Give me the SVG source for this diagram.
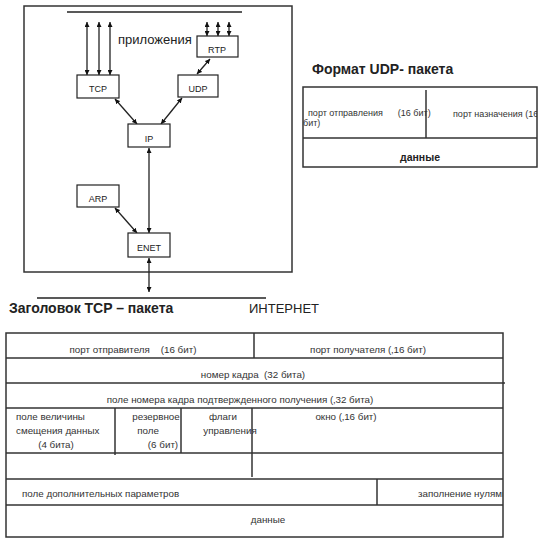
<svg xmlns="http://www.w3.org/2000/svg" width="542" height="540" viewBox="0 0 542 540">
<style>
.bx{fill:#fff;stroke:#222;stroke-width:1.2}
.ln{stroke:#222;stroke-width:1.3;fill:none}
.tb{stroke:#333;stroke-width:1.5;fill:none}
.s{font-family:"Liberation Sans",Arial,sans-serif;font-size:9px;fill:#333}
.lb{font-family:"Liberation Sans",Arial,sans-serif;font-size:9px;fill:#222;text-anchor:middle}
.t{font-family:"Liberation Sans",Arial,sans-serif;font-size:9.8px;fill:#333}
.m{text-anchor:middle}
.h{font-family:"Liberation Sans",Arial,sans-serif;font-size:14px;font-weight:bold;fill:#222}
</style>
<defs>
<marker id="ah" viewBox="0 0 10 10" refX="10" refY="5" markerWidth="5" markerHeight="5" orient="auto-start-reverse" markerUnits="userSpaceOnUse">
<path d="M0,0 L10,5 L0,10 z" fill="#111"/>
</marker>
</defs>
<rect x="0" y="0" width="542" height="540" fill="#fff"/>

<!-- stack frame -->
<rect x="24" y="6" width="268" height="266" class="tb" stroke-width="1.6"/>
<line x1="67" y1="12" x2="242" y2="12" class="ln"/>
<text x="118" y="44" font-family="Liberation Sans, Arial, sans-serif" font-size="13" fill="#222">приложения</text>

<g id="connectors">
<line x1="87" y1="22" x2="87" y2="75" class="ln" marker-start="url(#ah)" marker-end="url(#ah)"/>
<line x1="99" y1="22" x2="99" y2="75" class="ln" marker-start="url(#ah)" marker-end="url(#ah)"/>
<line x1="110" y1="22" x2="110" y2="75" class="ln" marker-start="url(#ah)" marker-end="url(#ah)"/>
<line x1="207" y1="22" x2="207" y2="36" class="ln" marker-start="url(#ah)" marker-end="url(#ah)"/>
<line x1="218" y1="22" x2="218" y2="36" class="ln" marker-start="url(#ah)" marker-end="url(#ah)"/>
<line x1="229" y1="22" x2="229" y2="36" class="ln" marker-start="url(#ah)" marker-end="url(#ah)"/>
<line x1="210" y1="59" x2="197" y2="74" class="ln" marker-start="url(#ah)" marker-end="url(#ah)"/>
<line x1="115" y1="99" x2="137" y2="124" class="ln" marker-start="url(#ah)" marker-end="url(#ah)"/>
<line x1="182" y1="98" x2="161" y2="124" class="ln" marker-start="url(#ah)" marker-end="url(#ah)"/>
<line x1="149" y1="148" x2="149" y2="233" class="ln" marker-start="url(#ah)" marker-end="url(#ah)"/>
<line x1="115" y1="208" x2="137" y2="233" class="ln" marker-start="url(#ah)" marker-end="url(#ah)"/>
<line x1="149" y1="258" x2="149" y2="292" class="ln" marker-start="url(#ah)" marker-end="url(#ah)"/>
</g>

<g id="tcp"><rect x="77" y="75" width="42" height="23" class="bx"/><text x="98" y="92" class="lb">TCP</text></g>
<g id="udp"><rect x="178" y="75" width="40" height="22" class="bx"/><text x="198" y="92" class="lb">UDP</text></g>
<g id="rtp"><rect x="197" y="36" width="41" height="21" class="bx"/><text x="217" y="53" class="lb">RTP</text></g>
<g id="ip"><rect x="128" y="124" width="42" height="23" class="bx"/><text x="149" y="142" class="lb">IP</text></g>
<g id="arp"><rect x="77" y="185" width="42" height="22" class="bx"/><text x="98" y="202" class="lb">ARP</text></g>
<g id="enet"><rect x="128" y="233" width="42" height="24" class="bx"/><text x="149" y="251" class="lb">ENET</text></g>

<!-- UDP format -->
<text x="312" y="74" class="h" font-size="13.5">Формат UDP-  пакета</text>
<g id="udp-packet">
<rect x="303" y="87" width="234" height="80" class="tb"/>
<line x1="303" y1="138" x2="537" y2="138" class="tb"/>
<line x1="426" y1="90" x2="426" y2="138" class="tb"/>
<text x="308" y="116" class="s" xml:space="preserve">порт отправления      (16 бит)</text>
<text x="303" y="126" class="s">бит)</text>
<svg x="426" y="87" width="111" height="51"><text x="27" y="30" class="s">порт назначения (16</text></svg>
<text x="420" y="161" font-family="Liberation Sans, Arial, sans-serif" font-size="10.5" font-weight="bold" fill="#222" text-anchor="middle">данные</text>
</g>

<!-- TCP header -->
<line x1="37" y1="298" x2="266" y2="298" class="ln"/>
<text x="9" y="313" class="h">Заголовок  TCP – пакета</text>
<text x="249" y="313" font-family="Liberation Sans, Arial, sans-serif" font-size="13" fill="#222">ИНТЕРНЕТ</text>

<g id="tcp-header">
<rect x="6" y="333" width="497" height="204" class="tb"/>
<line x1="6" y1="358" x2="503" y2="358" class="tb"/>
<line x1="6" y1="383" x2="505" y2="383" class="tb"/>
<line x1="6" y1="408" x2="503" y2="408" class="tb"/>
<line x1="6" y1="453" x2="503" y2="453" class="tb"/>
<line x1="6" y1="479" x2="503" y2="479" class="tb"/>
<line x1="6" y1="505" x2="503" y2="505" class="tb"/>
<line x1="254" y1="333" x2="254" y2="358" class="tb"/>
<line x1="115" y1="408" x2="115" y2="455" class="tb"/>
<line x1="181" y1="408" x2="181" y2="453" class="tb"/>
<line x1="252" y1="408" x2="252" y2="477" class="tb"/>
<line x1="377" y1="479" x2="377" y2="505" class="tb"/>

<text x="133" y="353" class="t m" xml:space="preserve">порт отправителя    (16 бит)</text>
<text x="368" y="353" class="t m">порт получателя (‚16 бит)</text>
<text x="253" y="378" class="t m" xml:space="preserve">номер кадра  (32 бита)</text>
<text x="240" y="403" class="t m">поле номера кадра подтвержденного получения (‚32 бита)</text>
<text x="16" y="420" class="t">поле величины</text>
<text x="16" y="434" class="t">смещения данных</text>
<text x="56" y="448" class="t m">(4 бита)</text>
<text x="156" y="420" class="t m">резервное</text>
<text x="148" y="434" class="t m">поле</text>
<text x="163" y="448" class="t m">(6 бит)</text>
<text x="223" y="420" class="t m">флаги</text>
<text x="230" y="434" class="t m">управления</text>
<text x="346" y="420" class="t m">окно (‚16 бит)</text>
<text x="22" y="497" class="t">поле дополнительных параметров</text>
<svg x="377" y="479" width="126" height="26"><text x="41" y="18" class="t">заполнение нулями</text></svg>
<text x="268" y="523" class="t m">данные</text>
</g>
</svg>
